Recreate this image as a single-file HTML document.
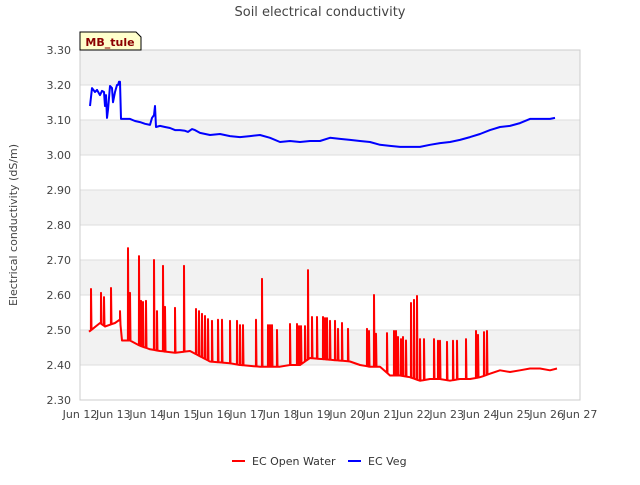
<!DOCTYPE html>
<html><head><meta charset="utf-8"><style>
body{margin:0;background:#fff;font-family:"Liberation Sans","DejaVu Sans",sans-serif}
</style></head><body>
<svg id="chart" width="640" height="480" xmlns="http://www.w3.org/2000/svg" font-family="DejaVu Sans, Liberation Sans, sans-serif">
<rect width="640" height="480" fill="#fff"/>
<text x="320" y="16" text-anchor="middle" font-size="13" fill="#444">Soil electrical conductivity</text>
<g id="bands"></g>
<g id="yaxis"></g>
<g id="xaxis"></g>
<g id="series"></g>
<rect x="80" y="50" width="500" height="350" fill="none" stroke="#ccc"/>
<text transform="translate(17,225) rotate(-90)" text-anchor="middle" font-size="11" fill="#444">Electrical conductivity (dS/m)</text>
<g>
<path d="M80,50 L80,32 L136,32 L141,37 L141,50 Z" fill="#ffffcc" stroke="#000" stroke-width="1"/>
<text x="110" y="46" text-anchor="middle" font-size="11" font-weight="bold" fill="#8b0000">MB_tule</text>
</g>
<g>
<g><line x1="232" y1="461" x2="245" y2="461" stroke="#f00" stroke-width="2"/><text x="252" y="465" font-size="11" fill="#333">EC Open Water</text></g>
<g><line x1="348" y1="461" x2="361" y2="461" stroke="#00f" stroke-width="2"/><text x="368" y="465" font-size="11" fill="#333">EC Veg</text></g>
</g>
</svg>
<script>
const yTicks=[2.30,2.40,2.50,2.60,2.70,2.80,2.90,3.00,3.10,3.20,3.30];
const xTickDays=[12,13,14,15,16,17,18,19,20,21,22,23,24,25,26,27];
const vegT=[12.30,12.36,12.45,12.51,12.60,12.66,12.72,12.75,12.78,12.81,12.84,12.90,12.96,12.99,13.05,13.11,13.14,13.17,13.20,13.23,13.35,13.50,13.65,13.80,13.95,14.10,14.16,14.22,14.25,14.28,14.40,14.55,14.70,14.85,15.00,15.15,15.24,15.36,15.45,15.60,15.90,16.20,16.50,16.80,17.10,17.40,17.70,18.00,18.30,18.60,18.90,19.20,19.50,19.80,20.10,20.40,20.70,21.00,21.30,21.60,21.90,22.20,22.50,22.80,23.10,23.40,23.70,24.00,24.30,24.60,24.90,25.20,25.50,25.80,26.10,26.25];
const vegV=[3.140,3.191,3.180,3.186,3.171,3.183,3.180,3.140,3.171,3.106,3.129,3.197,3.191,3.151,3.180,3.200,3.200,3.209,3.209,3.103,3.103,3.103,3.097,3.094,3.089,3.086,3.106,3.114,3.140,3.080,3.083,3.080,3.077,3.071,3.071,3.069,3.066,3.074,3.071,3.063,3.057,3.060,3.054,3.051,3.054,3.057,3.049,3.037,3.040,3.037,3.040,3.040,3.049,3.046,3.043,3.040,3.037,3.029,3.026,3.023,3.023,3.023,3.029,3.034,3.037,3.043,3.051,3.060,3.071,3.080,3.083,3.091,3.103,3.103,3.103,3.106];
const owBaseT=[12.27,12.60,12.75,13.05,13.20,13.26,13.50,13.80,14.10,14.40,14.85,15.30,15.60,15.90,16.50,16.80,17.40,18.00,18.30,18.60,18.90,19.50,20.10,20.40,20.70,21.00,21.30,21.60,21.90,22.20,22.50,22.80,23.10,23.40,23.70,24.00,24.30,24.60,24.90,25.20,25.50,25.80,26.10,26.31];
const owBaseV=[2.495,2.520,2.510,2.520,2.530,2.470,2.470,2.455,2.445,2.440,2.435,2.440,2.425,2.410,2.405,2.400,2.395,2.395,2.400,2.400,2.420,2.415,2.410,2.400,2.395,2.395,2.370,2.370,2.365,2.355,2.360,2.360,2.355,2.360,2.360,2.365,2.375,2.385,2.380,2.385,2.390,2.390,2.385,2.390];
const owSpikeT=[12.33,12.63,12.72,12.93,13.20,13.44,13.50,13.77,13.83,13.89,13.98,14.22,14.31,14.49,14.55,14.85,15.12,15.48,15.57,15.66,15.75,15.84,15.96,16.14,16.26,16.50,16.71,16.80,16.89,17.28,17.46,17.64,17.70,17.76,17.91,18.30,18.51,18.57,18.63,18.75,18.84,18.96,19.11,19.29,19.35,19.41,19.50,19.65,19.74,19.86,20.04,20.61,20.67,20.82,20.88,21.21,21.42,21.48,21.54,21.63,21.69,21.78,21.93,22.02,22.11,22.20,22.32,22.62,22.74,22.80,23.01,23.19,23.31,23.58,23.88,23.94,24.12,24.21];
const owSpikeV=[2.617,2.606,2.594,2.620,2.554,2.734,2.606,2.711,2.583,2.580,2.583,2.700,2.554,2.683,2.566,2.563,2.683,2.560,2.554,2.546,2.540,2.531,2.526,2.529,2.529,2.526,2.526,2.514,2.514,2.529,2.646,2.514,2.514,2.514,2.500,2.517,2.517,2.511,2.511,2.511,2.671,2.537,2.537,2.537,2.534,2.534,2.526,2.526,2.503,2.520,2.503,2.503,2.497,2.600,2.489,2.491,2.497,2.497,2.480,2.474,2.480,2.470,2.577,2.586,2.597,2.474,2.474,2.474,2.469,2.469,2.466,2.469,2.469,2.474,2.497,2.486,2.494,2.497];

const NS='http://www.w3.org/2000/svg';
const X0=80,X1=580,Y0=400,Y1=50;
const xS=d=>X0+(d-12)*(X1-X0)/15;
const yS=v=>Y0-(v-2.30)*(Y0-Y1)/1.0;
function mk(tag,attrs,parent){const e=document.createElementNS(NS,tag);for(const k in attrs)e.setAttribute(k,attrs[k]);parent.appendChild(e);return e;}
const bands=document.getElementById('bands'),ya=document.getElementById('yaxis'),xa=document.getElementById('xaxis'),ser=document.getElementById('series');
for(let i=0;i<yTicks.length-1;i++){
  if(i%2===1){const r=mk('rect',{x:X0,y:yS(yTicks[i+1]),width:X1-X0,height:yS(yTicks[i])-yS(yTicks[i+1]),fill:'#f2f2f2'},bands);
  
  }
}
yTicks.forEach(v=>{
  const l=mk('line',{x1:X0,x2:X1,y1:yS(v),y2:yS(v),stroke:'#ddd'},ya);
  
  
  const t=mk('text',{x:71,y:yS(v)+4,'text-anchor':'end','font-size':'11',fill:'#444'},ya);
  t.textContent=v.toFixed(2);
  
  
});
xTickDays.forEach(d=>{
  const t=mk('text',{x:xS(d),y:418,'text-anchor':'middle','font-size':'11',fill:'#444'},xa);
  t.textContent='Jun '+d;
  
  
});
function baseAt(t){for(let i=0;i<owBaseT.length-1;i++){if(t>=owBaseT[i]&&t<=owBaseT[i+1]){const f=(t-owBaseT[i])/(owBaseT[i+1]-owBaseT[i]);return owBaseV[i]+f*(owBaseV[i+1]-owBaseV[i]);}}return owBaseV[owBaseV.length-1];}
let pts=owBaseT.map((t,i)=>[t,owBaseV[i]]);
owSpikeT.forEach((t,i)=>{pts.push([t-0.004,baseAt(t-0.004)]);pts.push([t,owSpikeV[i]]);pts.push([t+0.015,baseAt(t+0.015)]);});
pts.sort((a,b)=>a[0]-b[0]);
const ow=mk('path',{d:pts.map((p,i)=>(i?'L':'M')+xS(p[0]).toFixed(1)+','+yS(p[1]).toFixed(1)).join(''),fill:'none',stroke:'#f00','stroke-width':'2','stroke-linejoin':'round'},ser);


const vg=mk('path',{d:vegT.map((t,i)=>(i?'L':'M')+xS(t).toFixed(1)+','+yS(vegV[i]).toFixed(1)).join(''),fill:'none',stroke:'#00f','stroke-width':'2','stroke-linejoin':'round'},ser);


</script>
</body></html>
